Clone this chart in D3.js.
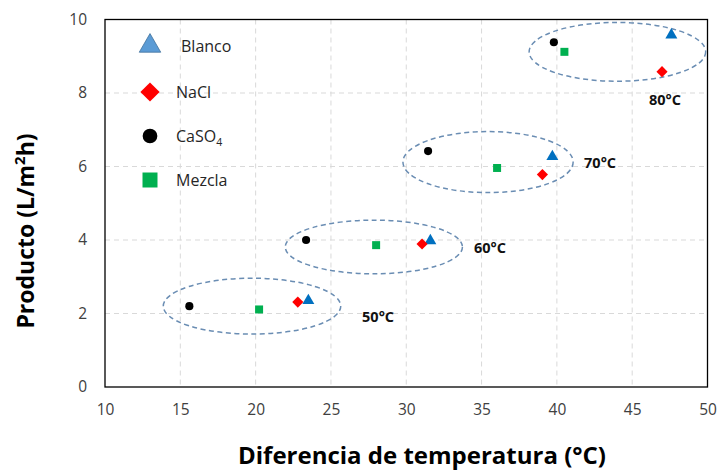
<!DOCTYPE html>
<html>
<head>
<meta charset="utf-8">
<script src="https://cdn.jsdelivr.net/npm/d3@7"></script>
<style>
  body { margin: 0; background: #fff; }
  text { font-family: "Open Sans", "Liberation Sans", sans-serif; }
</style>
</head>
<body>
<div id="chart"></div>
<script>
// data
let blancoX = [23.5, 31.6, 39.7, 47.6];
let blancoY = [2.35, 3.98, 6.27, 9.58];
let naclX = [22.8, 31.05, 39.04, 46.98];
let naclY = [2.31, 3.89, 5.78, 8.58];
let caso4X = [15.6, 23.35, 31.45, 39.8];
let caso4Y = [2.2, 4.0, 6.42, 9.38];
let mezclaX = [20.23, 28.0, 36.03, 40.5];
let mezclaY = [2.11, 3.86, 5.96, 9.12];

// temperature groups (ellipses)
let groups = ["50°C", "60°C", "70°C", "80°C"];
let groupCx = [19.76, 27.85, 35.43, 44.02];
let groupCy = [2.2, 3.81, 6.12, 9.12];
let groupRx = [5.89, 5.88, 5.65, 5.86];
let groupRy = [0.76, 0.73, 0.83, 0.8];
let labelX = [28.13, 35.56, 42.87, 47.18];
let labelY = [1.9, 3.78, 6.1, 7.81];

let xTicks = [10, 15, 20, 25, 30, 35, 40, 45, 50];
let yTicks = [0, 2, 4, 6, 8, 10];

let svgWidth = 718;
let svgHeight = 471;
let margin = { top: 19.5, right: 10.5, bottom: 84, left: 105 };
let width = svgWidth - margin.left - margin.right;
let height = svgHeight - margin.top - margin.bottom;

let svg = d3.select("#chart")
  .append("svg")
  .attr("width", svgWidth)
  .attr("height", svgHeight);

let chartGroup = svg.append("g")
  .attr("transform", `translate(${margin.left}, ${margin.top})`);

let x = d3.scaleLinear().domain([10, 50]).range([0, width]);
let y = d3.scaleLinear().domain([0, 10]).range([height, 0]);

// gridlines
chartGroup.append("g")
  .selectAll("line")
  .data(xTicks.slice(1, -1))
  .enter()
  .append("line")
  .attr("x1", d => x(d)).attr("x2", d => x(d))
  .attr("y1", 0).attr("y2", height)
  .attr("stroke", "#d9d9d9")
  .attr("stroke-dasharray", "5,4");

chartGroup.append("g")
  .selectAll("line")
  .data(yTicks.slice(1, -1))
  .enter()
  .append("line")
  .attr("x1", 0).attr("x2", width)
  .attr("y1", d => y(d)).attr("y2", d => y(d))
  .attr("stroke", "#d9d9d9")
  .attr("stroke-dasharray", "5,4");

// axes (labels only)
let bottomAxis = d3.axisBottom(x).tickValues(xTicks).tickSize(0).tickPadding(17);
let leftAxis = d3.axisLeft(y).tickValues(yTicks).tickSize(0).tickPadding(18);

let xAxisG = chartGroup.append("g")
  .attr("transform", `translate(0, ${height})`)
  .call(bottomAxis);
let yAxisG = chartGroup.append("g").call(leftAxis);

[xAxisG, yAxisG].forEach(g => {
  g.select(".domain").remove();
  g.selectAll("text")
    .attr("fill", "#404040")
    .style("font-family", "'Open Sans', sans-serif")
    .style("font-size", "15.5px");
});

// frame
chartGroup.append("rect")
  .attr("width", width)
  .attr("height", height)
  .attr("fill", "none")
  .attr("stroke", "#000")
  .attr("stroke-width", 1.3);

// ellipses
chartGroup.append("g")
  .selectAll("ellipse")
  .data(groups)
  .enter()
  .append("ellipse")
  .attr("cx", (d, i) => x(groupCx[i]))
  .attr("cy", (d, i) => y(groupCy[i]))
  .attr("rx", (d, i) => x(10 + groupRx[i]) - x(10))
  .attr("ry", (d, i) => y(0) - y(groupRy[i]))
  .attr("fill", "none")
  .attr("stroke", "#6a8db3")
  .attr("stroke-width", 1.5)
  .attr("stroke-dasharray", "5,3.5");

chartGroup.append("g")
  .selectAll("text")
  .data(groups)
  .enter()
  .append("text")
  .attr("x", (d, i) => x(labelX[i]))
  .attr("y", (d, i) => y(labelY[i]))
  .attr("dy", "0.35em")
  .attr("text-anchor", "middle")
  .style("font-size", "14.5px")
  .style("font-weight", "bold")
  .attr("fill", "#111")
  .text(d => d);

// series definitions
let seriesList = [
  { name: "Blanco", xs: blancoX, ys: blancoY, sym: d3.symbolTriangle, size: 62, color: "#0070c0", rot: 0, legSize: 200, legColor: "#5b9bd5" },
  { name: "NaCl", xs: naclX, ys: naclY, sym: d3.symbolSquare, size: 62, color: "#ff0000", rot: 45, legSize: 185, legColor: "#ff0000" },
  { name: "CaSO4", xs: caso4X, ys: caso4Y, sym: d3.symbolCircle, size: 52, color: "#000000", rot: 0, legSize: 170, legColor: "#000000" },
  { name: "Mezcla", xs: mezclaX, ys: mezclaY, sym: d3.symbolSquare, size: 64, color: "#00b050", rot: 0, legSize: 225, legColor: "#00b050" }
];

seriesList.forEach(s => {
  chartGroup.append("g")
    .selectAll("path")
    .data(s.xs)
    .enter()
    .append("path")
    .attr("d", d3.symbol().type(s.sym).size(s.size))
    .attr("transform", (d, i) => `translate(${x(d)}, ${y(s.ys[i])}) rotate(${s.rot})`)
    .attr("fill", s.color);
});

// legend
let legendY = [46, 92, 136, 180];
let legend = svg.append("g");
seriesList.forEach((s, i) => {
  let row = legend.append("g").attr("transform", `translate(150, ${legendY[i]})`);
  row.append("path")
    .attr("d", d3.symbol().type(s.sym).size(s.legSize))
    .attr("transform", `rotate(${s.rot})`)
    .attr("fill", s.legColor)
    .attr("stroke", s.name === "Blanco" ? "#41719c" : "none")
    .attr("stroke-width", 0.8);
  let t = row.append("text")
    .attr("x", s.name === "Blanco" ? 31 : 26)
    .attr("dy", "0.35em")
    .attr("fill", "#262626")
    .style("font-size", "16px");
  if (s.name === "CaSO4") {
    t.append("tspan").text("CaSO");
    t.append("tspan").attr("dy", "4").style("font-size", "10.5px").text("4");
  } else {
    t.text(s.name);
  }
});

// axis titles
svg.append("text")
  .attr("x", 422)
  .attr("y", 464)
  .attr("text-anchor", "middle")
  .style("font-size", "24px")
  .style("font-weight", "bold")
  .attr("fill", "#000")
  .text("Diferencia de temperatura (°C)");

let yTitle = svg.append("text")
  .attr("transform", "translate(34, 231) rotate(-90)")
  .attr("text-anchor", "middle")
  .style("font-size", "23px")
  .style("font-weight", "bold")
  .attr("fill", "#000");
yTitle.append("tspan").text("Producto (L/m");
yTitle.append("tspan").attr("dy", "-9").style("font-size", "15px").text("2");
yTitle.append("tspan").attr("dy", "9").text("h)");
</script>
</body>
</html>
